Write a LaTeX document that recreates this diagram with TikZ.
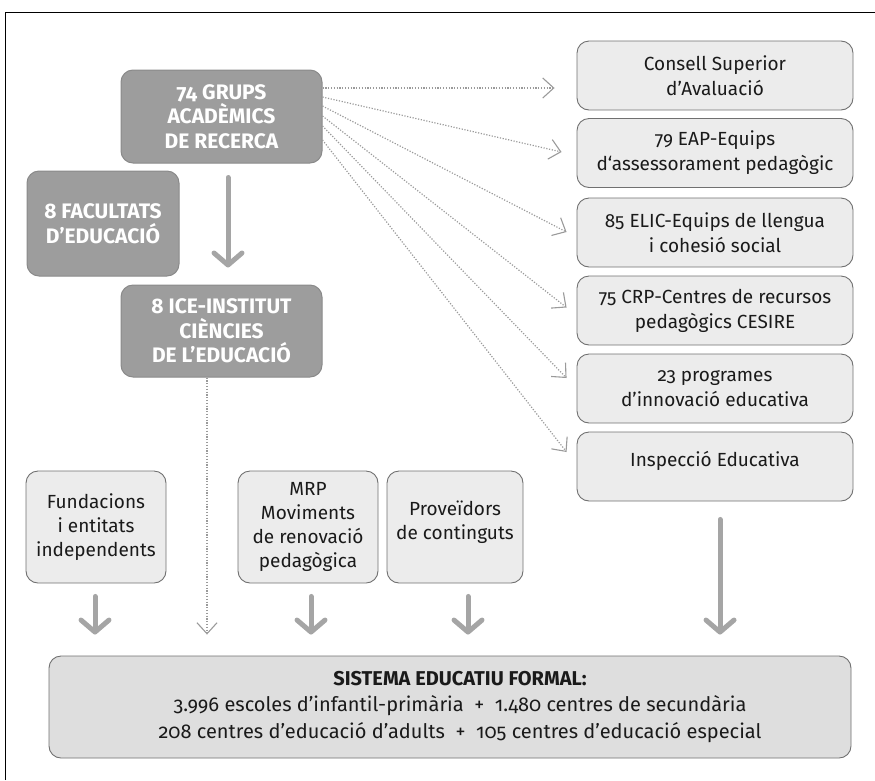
\documentclass[tikz,border=0pt]{standalone}
\usepackage{fontspec}
\setmainfont{Fira Sans}[Numbers=OldStyle]
\usetikzlibrary{arrows.meta,calc}
\definecolor{darkfill}{HTML}{9D9D9D}
\definecolor{darkline}{HTML}{8A8A8A}
\definecolor{lightfill}{HTML}{ECECEC}
\definecolor{lightline}{HTML}{707070}
\definecolor{sysfill}{HTML}{DEDEDE}
\definecolor{arrowgray}{HTML}{A5A5A5}
\definecolor{dotgray}{HTML}{9A9A9A}
\definecolor{textdark}{HTML}{1A1A1A}
\tikzset{
  darkbox/.style={draw=darkline, line width=1pt, fill=darkfill, rounded corners=12pt,
    text=white, align=center, font=\fontsize{21}{24.5}\selectfont\bfseries, inner sep=0pt},
  rightbox/.style={draw=lightline, line width=0.9pt, fill=lightfill, rounded corners=12pt,
    text=textdark, align=center, font=\fontsize{19}{25}\selectfont, inner sep=0pt,
    minimum width=276pt, minimum height=69pt},
  lowbox/.style={draw=lightline, line width=0.9pt, fill=lightfill, rounded corners=12pt,
    text=textdark, align=center, font=\fontsize{19}{24}\selectfont, inner sep=0pt,
    minimum height=112pt},
  sysbox/.style={draw=lightline, line width=0.9pt, fill=sysfill, rounded corners=12pt,
    inner sep=0pt, minimum width=802pt, minimum height=102pt},
  bigarrow/.style={draw=arrowgray, line width=5pt, line cap=round,
    -{Straight Barb[length=12pt, width=28pt, line cap=round, line join=round]}},
  dotarrow/.style={draw=dotgray, line width=1.2pt, dash pattern=on 1.2pt off 1.6pt,
    -{Straight Barb[length=11pt, width=20pt, line width=1.1pt]}},
}
\begin{document}
\begin{tikzpicture}[x=1pt,y=-1pt]
\useasboundingbox (0,0) rectangle (875,780);
\draw[line width=1.3pt, black] (5.5,780) -- (5.5,12.5) -- (875,12.5);

% dark boxes
\node[darkbox, minimum width=201pt, minimum height=93pt] (grups) at (221.5,116.5) {74 GRUPS\\ACADÈMICS\\DE RECERCA};
\node[darkbox, minimum width=152pt, minimum height=105pt] (facultats) at (103,223.5) {8 FACULTATS\\D’EDUCACIÓ};
\node[darkbox, minimum width=201pt, minimum height=92pt] (ice) at (221.5,331) {8 ICE-INSTITUT\\CIÈNCIES\\DE L’EDUCACIÓ};

% right boxes
\node[rightbox] (b1) at (715,75.5) {Consell Superior\\d’Avaluació};
\node[rightbox] (b2) at (715,153) {79 EAP-Equips\\d‘assessorament pedagògic};
\node[rightbox] (b3) at (715,232.5) {85 ELIC-Equips de llengua\\i cohesió social};
\node[rightbox] (b4) at (715,310.5) {75 CRP-Centres de recursos\\pedagògics CESIRE};
\node[rightbox] (b5) at (715,388.5) {23 programes\\d’innovació educativa};
\node[rightbox] (b6) at (715,466.5) {Inspecció Educativa\\[-9pt]\mbox{}};

% lower boxes
\node[lowbox, minimum width=140pt] (fund) at (96,527) {Fundacions\\i entitats\\independents};
\node[lowbox, minimum width=140pt] (mrp) at (308,527) {MRP\\Moviments\\de renovació\\pedagògica};
\node[lowbox, minimum width=136pt] (prov) at (455,527) {Proveïdors\\de continguts\\[-10pt]\mbox{}};

% system box
\node[sysbox] (sys) at (450,707) {};
\node[align=center, text=textdark, font=\fontsize{20}{26.5}\selectfont] (systext) at (460,707)
  {{\bfseries SISTEMA EDUCATIU FORMAL:}\\
   3.996 escoles d’infantil-primària~~+~~1.480 centres de secundària\\
   208 centres d’educació d’adults~~+~~105 centres d’educació especial};

% dotted arrows
\draw[dotarrow] ([yshift=28.5pt]grups.east) -- ($(b1.west)+(-22,12.5)$);
\draw[dotarrow] ([yshift=19.5pt]grups.east) -- ($(b2.west)+(-15,-1)$);
\draw[dotarrow] ([yshift=10.5pt]grups.east) -- ($(b3.west)+(-10,-0.5)$);
\draw[dotarrow] ([yshift=0.5pt]grups.east) -- ($(b4.west)+(-10,-3)$);
\draw[dotarrow] ([yshift=-9.5pt]grups.east) -- ($(b5.west)+(-10,-10.5)$);
\draw[dotarrow] ([yshift=-23.5pt]grups.east) -- ($(b6.west)+(-10,-14.5)$);
\draw[dotarrow] ([xshift=-14.5pt]ice.south) -- ([xshift=-14.5pt,yshift=21pt]ice.south |- sys.north);

% big arrows
\draw[bigarrow] ([xshift=6.5pt,yshift=-14pt]grups.south) -- ([xshift=6.5pt,yshift=17pt]ice.north);
\draw[bigarrow] ([xshift=-1pt,yshift=-13pt]fund.south) -- ([xshift=-1pt,yshift=21pt]fund.south |- sys.north);
\draw[bigarrow] ([xshift=3pt,yshift=-13pt]mrp.south) -- ([xshift=3pt,yshift=21pt]mrp.south |- sys.north);
\draw[bigarrow] ([xshift=13pt,yshift=-13pt]prov.south) -- ([xshift=13pt,yshift=21pt]prov.south |- sys.north);
\draw[bigarrow] ([xshift=5pt,yshift=-18pt]b6.south) -- ([xshift=5pt,yshift=21pt]b6.south |- sys.north);
\end{tikzpicture}
\end{document}
